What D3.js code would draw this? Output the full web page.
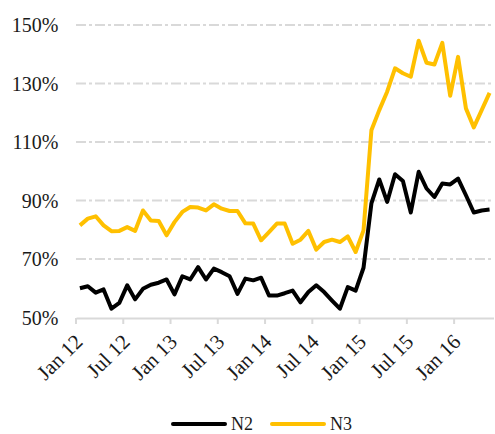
<!DOCTYPE html>
<html>
<head>
<meta charset="utf-8">
<script src="https://cdn.jsdelivr.net/npm/d3@7"></script>
<style>
  body { margin: 0; background: #fff; }
  svg { font-family: "Liberation Serif", "Times New Roman", serif; }
</style>
</head>
<body>
<svg id="chart" width="495" height="434"></svg>
<script>
// monthly categories, Jan 12 .. May 16
const months = d3.timeMonth.range(new Date(2012, 0, 1), new Date(2016, 5, 1));
const tickLabels = ['Jan 12', 'Jul 12', 'Jan 13', 'Jul 13', 'Jan 14', 'Jul 14', 'Jan 15', 'Jul 15', 'Jan 16'];
const yTicks = [50, 70, 90, 110, 130, 150];
const seriesNames = ['N2', 'N3'];

const n2 = [60.0, 60.7, 58.5, 59.6, 53.0, 55.0, 61.0, 56.2, 59.8, 61.2, 61.9, 63.0,
            57.9, 64.1, 63.0, 67.2, 63.0, 66.7, 65.5, 64.1, 58.1, 63.3, 62.7, 63.6,
            57.5, 57.5, 58.3, 59.2, 55.2, 58.7, 61.0, 58.7, 55.8, 53.0, 60.4, 59.2,
            67.0, 89.0, 97.2, 89.5, 99.0, 96.7, 85.9, 99.8, 94.1, 91.2, 95.8, 95.5,
            97.5, 91.8, 85.9, 86.6, 86.9];
const n3 = [81.5, 83.8, 84.6, 81.5, 79.5, 79.6, 80.9, 79.6, 86.6, 83.2, 83.0, 78.1,
            82.6, 86.1, 87.8, 87.6, 86.6, 88.7, 87.2, 86.4, 86.4, 82.2, 82.1, 76.4,
            79.2, 82.1, 82.1, 75.2, 76.6, 79.6, 73.2, 75.8, 76.6, 75.8, 77.7, 72.4,
            79.8, 114.0, 120.9, 127.2, 135.2, 133.5, 132.3, 144.6, 137.1, 136.5, 143.9, 125.8,
            139.1, 121.5, 115.0, 120.9, 126.8];

const COLORS = ['#000000', '#ffc000'];
const GRID = '#d9d9d9';

const MARGIN_LEFT = 76, PLOT_RIGHT = 493.5;
const PLOT_TOP = 25, PLOT_BOTTOM = 317.5;

const svg = d3.select('#chart');

const x = d3.scaleBand()
    .domain(months.map(d => +d))
    .range([MARGIN_LEFT, PLOT_RIGHT])
    .paddingInner(0).paddingOuter(0);

const y = d3.scaleLinear()
    .domain([50, 150])
    .range([PLOT_BOTTOM, PLOT_TOP]);

// gridlines (dash-dot)
svg.append('g')
    .selectAll('line')
    .data(yTicks.slice(1))
  .enter().append('line')
    .attr('x1', MARGIN_LEFT)
    .attr('x2', PLOT_RIGHT)
    .attr('y1', d => y(d))
    .attr('y2', d => y(d))
    .attr('stroke', GRID)
    .attr('stroke-width', 1.8)
    .attr('stroke-dasharray', '10,3,3,3');

// y labels
svg.append('g')
    .selectAll('text')
    .data(yTicks)
  .enter().append('text')
    .attr('x', 58.5)
    .attr('y', d => y(d))
    .attr('dy', '0.35em')
    .attr('text-anchor', 'end')
    .attr('font-size', 20)
    .attr('fill', '#1a1a1a')
    .text(d => d + '%');

// x axis, ticks at band starts every 6 months
const tickMonths = months.filter((d, i) => i % 6 === 0);
const xAxis = d3.axisBottom(x)
    .tickValues(tickMonths.map(d => +d))
    .tickSize(6)
    .tickSizeOuter(0)
    .tickFormat('');

const axisG = svg.append('g')
    .attr('transform', `translate(0, ${PLOT_BOTTOM + 0.5})`)
    .call(xAxis);
axisG.select('.domain').attr('stroke', GRID).attr('stroke-width', 2);
axisG.selectAll('.tick line')
    .attr('stroke', GRID)
    .attr('stroke-width', 2)
    .attr('transform', d => `translate(${-x.bandwidth() / 2}, 0)`);

svg.append('g')
    .selectAll('text')
    .data(tickMonths)
  .enter().append('text')
    .attr('transform', d => `translate(${x(+d) + x.bandwidth() / 2 + 4}, 343) rotate(-45)`)
    .attr('text-anchor', 'end')
    .attr('font-size', 21)
    .attr('fill', '#1a1a1a')
    .text((d, i) => tickLabels[i]);

// lines
const line = d3.line()
    .x((d, i) => x(+months[i]) + x.bandwidth() / 2)
    .y(d => y(d));

[n2, n3].forEach((values, k) => {
    svg.append('path')
        .datum(values)
        .attr('fill', 'none')
        .attr('stroke', COLORS[k])
        .attr('stroke-width', 4)
        .attr('stroke-linejoin', 'round')
        .attr('d', line);
});

// legend
const legendX = [173, 272];
seriesNames.forEach((name, k) => {
    const g = svg.append('g').attr('transform', `translate(${legendX[k]}, 424)`);
    g.append('line')
        .attr('x1', 0).attr('x2', 52)
        .attr('stroke', COLORS[k])
        .attr('stroke-width', 4)
        .attr('stroke-linecap', 'round');
    g.append('text')
        .attr('x', 58)
        .attr('dy', '0.35em')
        .attr('font-size', 18)
        .attr('fill', '#1a1a1a')
        .text(name);
});
</script>
</body>
</html>
